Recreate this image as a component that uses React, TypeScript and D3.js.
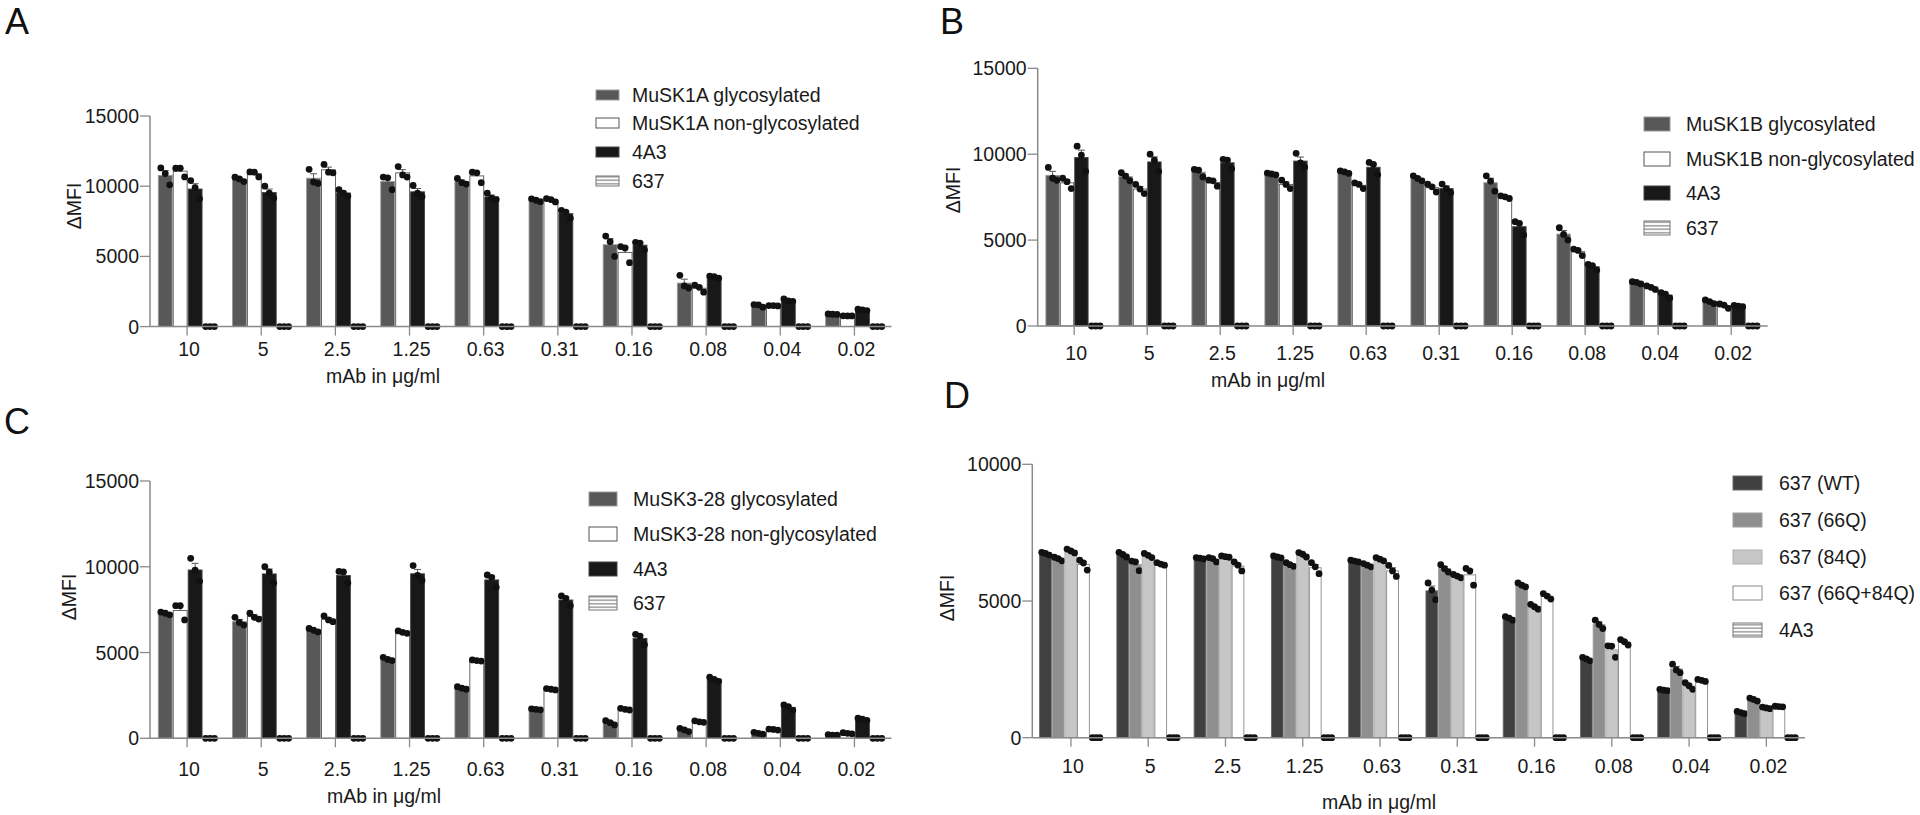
import React from "react";
import * as d3 from "d3";

// ---------- data ----------
const doses = ["10", "5", "2.5", "1.25", "0.63", "0.31", "0.16", "0.08", "0.04", "0.02"];
const ticks15k = [0, 5000, 10000, 15000];
const ticks10k = [0, 5000, 10000];

const seriesA = ["MuSK1A glycosylated", "MuSK1A non-glycosylated", "4A3", "637"];
const aGlyc = [[11300, 10900, 10100], [10640, 10520, 10330], [11200, 10300, 10200], [10650, 10600, 9750], [10550, 10250, 10150], [9100, 9000, 8900], [6450, 6050, 5000], [3650, 2900, 2750], [1570, 1550, 1380], [900, 880, 870]];
const aNon = [[11280, 11280, 10660], [11020, 11000, 10660], [11550, 11000, 10950], [11400, 10800, 10650], [11000, 10950, 10250], [9120, 9050, 8880], [5700, 5600, 4550], [2950, 2800, 2450], [1500, 1500, 1470], [770, 760, 760]];
const a4A3 = [[10400, 9900, 9100], [10000, 9500, 9150], [9750, 9500, 9300], [10050, 9500, 9250], [9500, 9150, 9050], [8280, 8160, 7710], [6000, 5950, 5450], [3600, 3550, 3450], [1980, 1830, 1800], [1240, 1190, 1140]];
const a637 = [[0, 0, 0], [0, 0, 0], [0, 0, 0], [0, 0, 0], [0, 0, 0], [0, 0, 0], [0, 0, 0], [0, 0, 0], [0, 0, 0], [0, 0, 0]];

const seriesB = ["MuSK1B glycosylated", "MuSK1B non-glycosylated", "4A3", "637"];
const bGlyc = [[9230, 8600, 8480], [8920, 8720, 8450], [9110, 9070, 8680], [8900, 8850, 8800], [9030, 8970, 8880], [8740, 8590, 8450], [8740, 8430, 7850], [5720, 5330, 5000], [2580, 2540, 2450], [1520, 1420, 1300]];
const bNon = [[8600, 8400, 8000], [8240, 7970, 7710], [8490, 8450, 8140], [8490, 8240, 8000], [8330, 8240, 8000], [8250, 8100, 7800], [7580, 7520, 7420], [4480, 4400, 4100], [2330, 2250, 2130], [1280, 1220, 1030]];
const b4A3 = [[10470, 9950, 9000], [10000, 9650, 9000], [9700, 9650, 9150], [10050, 9500, 9250], [9520, 9400, 8800], [8260, 8000, 7750], [6070, 5970, 5300], [3590, 3510, 3250], [1940, 1860, 1620], [1200, 1160, 1120]];
const b637 = [[0, 0, 0], [0, 0, 0], [0, 0, 0], [0, 0, 0], [0, 0, 0], [0, 0, 0], [0, 0, 0], [0, 0, 0], [0, 0, 0], [0, 0, 0]];

const seriesC = ["MuSK3-28 glycosylated", "MuSK3-28 non-glycosylated", "4A3", "637"];
const cGlyc = [[7360, 7290, 7200], [7050, 6750, 6600], [6400, 6300, 6200], [4720, 4600, 4530], [3010, 2920, 2860], [1720, 1690, 1660], [1030, 910, 780], [580, 490, 390], [350, 290, 240], [210, 190, 180]];
const cNon = [[7730, 7730, 6900], [7290, 7050, 6950], [7130, 6900, 6800], [6260, 6180, 6120], [4570, 4530, 4500], [2900, 2860, 2820], [1750, 1690, 1650], [1020, 960, 930], [540, 520, 480], [330, 290, 260]];
const c4A3 = [[10490, 9800, 9150], [10000, 9700, 9050], [9730, 9700, 9050], [10070, 9500, 9200], [9520, 9380, 8800], [8300, 8160, 7730], [6060, 5960, 5460], [3560, 3440, 3320], [1940, 1850, 1630], [1170, 1110, 1050]];
const c637 = [[0, 0, 0], [0, 0, 0], [0, 0, 0], [0, 0, 0], [0, 0, 0], [0, 0, 0], [0, 0, 0], [0, 0, 0], [0, 0, 0], [0, 0, 0]];

const seriesD = ["637 (WT)", "637 (66Q)", "637 (84Q)", "637 (66Q+84Q)", "4A3"];
const dWT = [[6780, 6740, 6680], [6780, 6700, 6610], [6590, 6570, 6540], [6650, 6610, 6580], [6490, 6460, 6430], [5660, 5400, 5050], [4430, 4370, 4300], [2940, 2880, 2810], [1770, 1740, 1720], [960, 920, 880]];
const d66Q = [[6600, 6550, 6470], [6460, 6430, 6110], [6590, 6550, 6430], [6400, 6330, 6270], [6370, 6310, 6250], [6330, 6180, 6060], [5660, 5580, 5520], [4300, 4140, 3990], [2690, 2480, 2380], [1450, 1400, 1340]];
const d84Q = [[6900, 6830, 6760], [6740, 6670, 6590], [6650, 6620, 6600], [6770, 6710, 6610], [6590, 6530, 6470], [5970, 5910, 5850], [4880, 4790, 4700], [3360, 3350, 2940], [2010, 1900, 1770], [1120, 1090, 1060]];
const d6684 = [[6490, 6390, 6130], [6400, 6350, 6310], [6430, 6310, 6100], [6400, 6250, 6000], [6300, 6100, 5900], [6190, 6100, 5580], [5270, 5180, 5070], [3590, 3510, 3390], [2130, 2100, 2060], [1150, 1140, 1130]];
const d4A3 = [[0, 0, 0], [0, 0, 0], [0, 0, 0], [0, 0, 0], [0, 0, 0], [0, 0, 0], [0, 0, 0], [0, 0, 0], [0, 0, 0], [0, 0, 0]];

// ---------- styles ----------
const FONT = "'Liberation Sans', Arial, Helvetica, sans-serif";
const AXIS = "#8a8a8a";

type Style = { fill: string; stroke: string; pattern?: boolean };
const stylesABC: Style[] = [
  { fill: "#585858", stroke: "#9a9a9a" },
  { fill: "#ffffff", stroke: "#555555" },
  { fill: "#181818", stroke: "#444444" },
  { fill: "#ffffff", stroke: "#777777", pattern: true },
];
const stylesD: Style[] = [
  { fill: "#404040", stroke: "#6a6a6a" },
  { fill: "#8f8f8f", stroke: "#a0a0a0" },
  { fill: "#c6c6c6", stroke: "#b0b0b0" },
  { fill: "#ffffff", stroke: "#888888" },
  { fill: "#ffffff", stroke: "#777777", pattern: true },
];

type Cfg = {
  letter: string; lx: number; ly: number;
  xl: number; xr: number; innerOff: number; innerW: number;
  y0: number; yTop: number; ymax: number; ticks: number[];
  series: string[]; data: number[][][]; styles: Style[];
  tickLabelY: number; titleX: number; titleY: number;
  ylabX: number; ylabY: number;
  legX: number; legTextX: number; legY: number[]; swW: number; swH: number;
};

function mean(a: number[]) { return d3.mean(a) as number; }
function sem(a: number[]) { const s = d3.deviation(a) || 0; return s / Math.sqrt(a.length); }

function Panel({ c }: { c: Cfg }) {
  const x = d3.scaleBand<string>().domain(doses).range([c.xl, c.xr]).padding(0);
  const xi = d3.scaleBand<number>().domain(d3.range(c.series.length)).range([c.innerOff, c.innerOff + c.innerW]).paddingInner(0.07);
  const y = d3.scaleLinear().domain([0, c.ymax]).range([c.y0, c.yTop]);
  const bw = xi.bandwidth();
  return (
    <g>
      <text x={c.lx} y={c.ly} fontSize={36} fontFamily={FONT} fill="#111">{c.letter}</text>
      {/* bars */}
      {c.data.map((ser, si) => ser.map((reps, di) => {
        const m = mean(reps);
        const bx = (x(doses[di]) as number) + (xi(si) as number);
        const st = c.styles[si];
        const top = y(m);
        const h = c.y0 - top;
        const e = sem(reps);
        const cx = bx + bw / 2;
        const sorted = [...reps].sort((p, q) => q - p);
        const offs = [-bw * 0.32, 0, bw * 0.32];
        return (
          <g key={`b${si}-${di}`}>
            {h > 0.5 && (
              <rect x={bx} y={top} width={bw} height={h}
                fill={st.pattern ? "url(#hlines)" : st.fill} stroke={st.stroke} strokeWidth={0.9} />
            )}
            {e > 0 && (
              <g stroke="#555" strokeWidth={1}>
                <line x1={cx} x2={cx} y1={top} y2={y(m + e)} />
                <line x1={cx - 3.5} x2={cx + 3.5} y1={y(m + e)} y2={y(m + e)} />
              </g>
            )}
            {sorted.map((v, k) => (
              <circle key={k} cx={cx + offs[k]} cy={y(v)} r={3.4} fill="#111" />
            ))}
          </g>
        );
      }))}
      {/* x axis */}
      <line x1={c.xl} x2={c.xr} y1={c.y0} y2={c.y0} stroke={AXIS} strokeWidth={1.5} />
      {doses.map((d) => {
        const cx = (x(d) as number) + x.bandwidth() / 2;
        return (
          <g key={d}>
            <line x1={cx} x2={cx} y1={c.y0} y2={c.y0 + 9} stroke={AXIS} strokeWidth={1.3} />
            <text x={cx + 2} y={c.tickLabelY} textAnchor="middle" dominantBaseline="central"
              fontSize={19.5} fontFamily={FONT} fill="#1a1a1a">{d}</text>
          </g>
        );
      })}
      {/* y axis */}
      <line x1={c.xl} x2={c.xl} y1={c.y0} y2={y(c.ymax)} stroke={AXIS} strokeWidth={1.5} />
      {c.ticks.map((t) => (
        <g key={t}>
          <line x1={c.xl - 10} x2={c.xl} y1={y(t)} y2={y(t)} stroke={AXIS} strokeWidth={1.3} />
          <text x={c.xl - 11} y={y(t)} textAnchor="end" dominantBaseline="central"
            fontSize={19.5} fontFamily={FONT} fill="#1a1a1a">{t}</text>
        </g>
      ))}
      <text transform={`translate(${c.ylabX},${c.ylabY}) rotate(-90)`} textAnchor="middle" dominantBaseline="central"
        fontSize={19.5} fontFamily={FONT} fill="#1a1a1a">ΔMFI</text>
      <text x={c.titleX} y={c.titleY} textAnchor="middle" dominantBaseline="central"
        fontSize={19.5} fontFamily={FONT} fill="#1a1a1a">mAb in μg/ml</text>
      {/* legend */}
      {c.series.map((s, i) => {
        const st = c.styles[i];
        const ly = c.legY[i];
        return (
          <g key={s}>
            <rect x={c.legX} y={ly - c.swH / 2} width={c.swW} height={c.swH}
              fill={st.pattern ? "url(#hlinesL)" : st.fill} stroke={st.stroke} strokeWidth={1} />
            <text x={c.legTextX} y={ly} dominantBaseline="central" fontSize={19.5} fontFamily={FONT} fill="#1a1a1a">{s}</text>
          </g>
        );
      })}
    </g>
  );
}

const panels: Cfg[] = [
  {
    letter: "A", lx: 5, ly: 34, xl: 150, xr: 891.5, innerOff: 8.3, innerW: 58.7,
    y0: 326.6, yTop: 116, ymax: 15000, ticks: ticks15k,
    series: seriesA, data: [aGlyc, aNon, a4A3, a637], styles: stylesABC,
    tickLabelY: 349, titleX: 383, titleY: 376, ylabX: 74, ylabY: 206,
    legX: 596, legTextX: 632, legY: [95, 123, 152, 181], swW: 23, swH: 10,
  },
  {
    letter: "B", lx: 940, ly: 34, xl: 1037.7, xr: 1767.7, innerOff: 8.2, innerW: 56.6,
    y0: 326, yTop: 68.3, ymax: 15000, ticks: ticks15k,
    series: seriesB, data: [bGlyc, bNon, b4A3, b637], styles: stylesABC,
    tickLabelY: 353, titleX: 1268, titleY: 380, ylabX: 953, ylabY: 190,
    legX: 1644, legTextX: 1686, legY: [124, 159, 193, 228], swW: 26, swH: 14,
  },
  {
    letter: "C", lx: 4, ly: 434, xl: 150, xr: 891.5, innerOff: 8.3, innerW: 58.7,
    y0: 738.3, yTop: 481, ymax: 15000, ticks: ticks15k,
    series: seriesC, data: [cGlyc, cNon, c4A3, c637], styles: stylesABC,
    tickLabelY: 769, titleX: 384, titleY: 796, ylabX: 69, ylabY: 597,
    legX: 589, legTextX: 633, legY: [499, 534, 569, 603], swW: 28, swH: 14,
  },
  {
    letter: "D", lx: 944, ly: 408, xl: 1032.3, xr: 1805, innerOff: 7.3, innerW: 62.4,
    y0: 737.7, yTop: 464.3, ymax: 10000, ticks: ticks10k,
    series: seriesD, data: [dWT, d66Q, d84Q, d6684, d4A3], styles: stylesD,
    tickLabelY: 766, titleX: 1379, titleY: 802, ylabX: 947, ylabY: 598,
    legX: 1733, legTextX: 1779, legY: [483, 520, 557, 593, 630], swW: 29, swH: 14,
  },
];

export default function App() {
  return (
    <svg width={1920} height={815} viewBox="0 0 1920 815"
      style={{ position: "absolute", left: 0, top: 0, background: "#fff" }}>
      <defs>
        <pattern id="hlines" width={6} height={4} patternUnits="userSpaceOnUse">
          <rect width={6} height={4} fill="#fff" />
          <line x1={0} x2={6} y1={2} y2={2} stroke="#777" strokeWidth={1} />
        </pattern>
        <pattern id="hlinesL" width={6} height={3.5} patternUnits="userSpaceOnUse">
          <rect width={6} height={3.5} fill="#fff" />
          <line x1={0} x2={6} y1={1.75} y2={1.75} stroke="#666" strokeWidth={1} />
        </pattern>
      </defs>
      <rect width={1920} height={815} fill="#fff" />
      {panels.map((p) => <Panel key={p.letter} c={p} />)}
    </svg>
  );
}
